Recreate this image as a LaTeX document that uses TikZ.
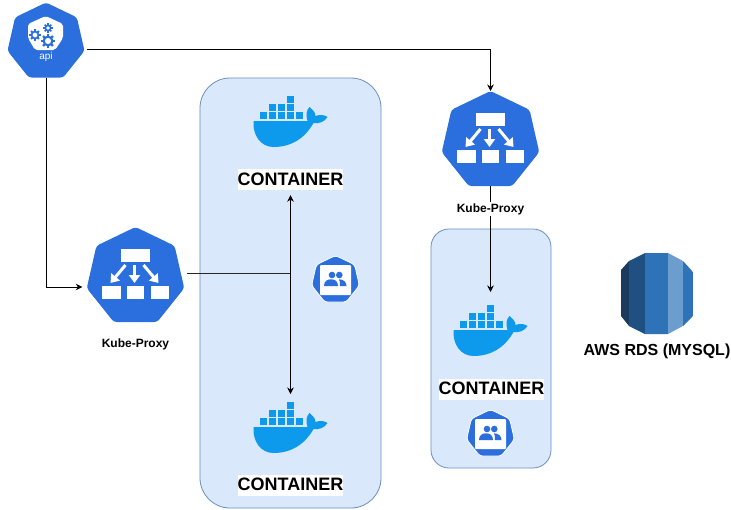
\documentclass[tikz,border=0pt]{standalone}
\usepackage{fontspec}
\setmainfont{Liberation Sans}
\usetikzlibrary{arrows.meta,shapes.geometric}
\definecolor{kubeblue}{HTML}{2B6FDF}
\definecolor{whaleblue}{HTML}{0D9AEC}
\definecolor{boxfill}{HTML}{DAE8FC}
\definecolor{boxline}{HTML}{6C8EBF}
\tikzset{
	link/.style={draw=black, line width=0.8pt, -{Stealth[length=6.5pt,width=6.5pt]}},
	linkplain/.style={draw=black!85, line width=0.8pt},
	hept/.style={regular polygon, regular polygon sides=7, inner sep=0pt, outer sep=0pt, fill=kubeblue, rounded corners=3pt},
	podhept/.style={hept, draw=white, line width=0.8pt, minimum size=49pt},
	proxyhept/.style={hept, minimum size=100pt},
	whalebox/.style={inner sep=0pt, outer sep=0pt, minimum width=76pt, minimum height=66pt},
	holder/.style={draw=boxline, fill=boxfill, line width=0.8pt},
	caption/.style={font=\bfseries\fontsize{12}{14}\selectfont, inner sep=1pt},
	boxlabel/.style={font=\bfseries\fontsize{18}{20}\selectfont, fill=white, inner sep=0pt, text height=16pt, text depth=5pt},
	pics/dockerwhale/.style={code={
		\foreach \bx/\by in {-4/-25, -22/-17, -13/-17, -4/-17, -31/-9, -22/-9, -13/-9, -4/-9, 5/-9}
			\fill[whaleblue] (\bx,\by) rectangle ++(7.6,6.8);
		\fill[whaleblue] (-37,0) -- (17,0) .. controls (15,-6) and (16,-11) .. (19,-14)
			.. controls (22,-11) and (25,-9) .. (25,-5) .. controls (30,-7) and (34,-6) .. (37,-4)
			.. controls (34,1) and (28,3) .. (23,2) .. controls (14,18) and (0,26) .. (-17,26)
			.. controls (-30,26) and (-38,14) .. (-37,0) -- cycle;
	}},
	pics/proxyicon/.style={code={
		\fill[white] (-14.5,-28) rectangle (14.5,-15);
		\fill[white] (-33.5,9) rectangle (-15,22);
		\fill[white] (-8.5,9) rectangle (8.5,22);
		\fill[white] (15.5,9) rectangle (33.5,22);
		\foreach \ax/\bx in {-10/-25, -1/-1, 8/23}
			\draw[white, line width=3pt, -{Triangle[length=8pt,width=11pt]}] (\ax,-12) -- (\bx,6);
	}},
	pics/podicon/.style={code={
		\fill[white, rounded corners=1pt] (-15.5,-15) rectangle (15.5,15);
		\fill[kubeblue] (-3.5,-5) circle (3.3);
		\fill[kubeblue] (3.8,-5) circle (3.3);
		\fill[kubeblue] (-11.5,6) .. controls (-11.5,1) and (-8,-0.7) .. (-4.5,-0.7) .. controls (-1,-0.7) and (2.5,1) .. (2.5,6) -- cycle;
		\fill[kubeblue] (4.5,6) -- (11,6) .. controls (11,2) and (8,-0.7) .. (3.5,-0.7) .. controls (4.5,1) and (4.5,3) .. (4.5,6) -- cycle;
	}},
	pics/gearicon/.style={code={
		\foreach \a in {0,45,...,315}
			\fill[kubeblue, rotate=\a] (-#1*0.22,0) rectangle (#1*0.22,#1*1.28);
		\fill[kubeblue] (0,0) circle (#1);
		\fill[white] (0,0) circle (#1*0.55);
	}},
}

\begin{document}
\begin{tikzpicture}[x=1pt, y=-1pt]
	\useasboundingbox (0,0) rectangle (731,509);

	\draw[holder] (200,78) [rounded corners=30pt] rectangle (381,508);
	\draw[holder] (431,229) [rounded corners=18pt] rectangle (551,468);

	\node[hept, minimum size=79pt] (api) at (46,42) {};
	\fill[white, rounded corners=2pt] (45.7,16) -- (63,24) -- (63,38) -- (55,50) -- (35,50) -- (28,38) -- (28,24) -- cycle;
	\pic at (35,35) {gearicon=4.3};
	\pic at (48,28) {gearicon=3.6};
	\pic at (48,41) {gearicon=5.5};
	\node[text=white, font=\fontsize{10}{12}\selectfont, inner sep=0pt] (apitext) at (46,57) {api};

	\node[proxyhept] (proxyleft) at (135.5,277) {};
	\pic at (proxyleft) {proxyicon};
	\node[caption] (proxyleftlabel) at (135.5,344) {Kube-Proxy};

	\node[proxyhept] (proxyright) at (490.5,141) {};
	\pic at (proxyright) {proxyicon};

	\node[whalebox] (whaletop) at (290.5,121) {};
	\pic at (whaletop) {dockerwhale};
	\node[boxlabel] (containertop) at (290.5,179.5) {CONTAINER};

	\node[whalebox] (whalebottom) at (290.5,427) {};
	\pic at (whalebottom) {dockerwhale};
	\node[boxlabel] (containerbottom) at (290.5,485) {CONTAINER};

	\node[whalebox] (whaleright) at (490.5,330) {};
	\pic at (whaleright) {dockerwhale};
	\node[boxlabel] (containerright) at (491.5,389) {CONTAINER};

	\node[podhept] (podleft) at (335.5,280) {};
	\pic at (podleft) {podicon};
	\node[podhept] (podright) at (490.5,434) {};
	\pic at (podright) {podicon};

	% rds drum, five bands
	\begin{scope}
		\clip (645,253) -- (668,253) -- (683,261) -- (693,272) -- (693,316) -- (683,326) -- (668,334) -- (645,334) -- (629,326) -- (621,316) -- (621,270) -- (629,261) -- cycle;
		\foreach \xa/\xb/\bandcol in {621/629/1A3A5E, 629/645/205081, 645/668/2E73B8, 668/683/6B9ECF, 683/693/2E73B8} {
			\definecolor{bandnow}{HTML}{\bandcol}
			\fill[bandnow] (\xa,250) rectangle (\xb,337);
		}
	\end{scope}
	\node[font=\bfseries\fontsize{16}{18}\selectfont, inner sep=0pt] (rdslabel) at (657,351) {AWS RDS (MYSQL)};

	\coordinate (junction) at (290.5,273);
	\draw[link] ([xshift=4pt,yshift=-7pt]api.east) -| (proxyright.north);
	\draw[link] (api.south) |- ([xshift=-7pt,yshift=-10pt]proxyleft.west);
	\draw[linkplain] ([xshift=5pt,yshift=4pt]proxyleft.east) -- (junction);
	\draw[link, shorten >=5pt] (junction) -- (containertop.south);
	\draw[link] (junction) -- (whalebottom.north);
	\draw[link, shorten >=5pt] (proxyright.south) -- (whaleright.north);
	\node[caption, fill=white] (proxyrightlabel) at (490.5,209) {Kube-Proxy};
\end{tikzpicture}
\end{document}
